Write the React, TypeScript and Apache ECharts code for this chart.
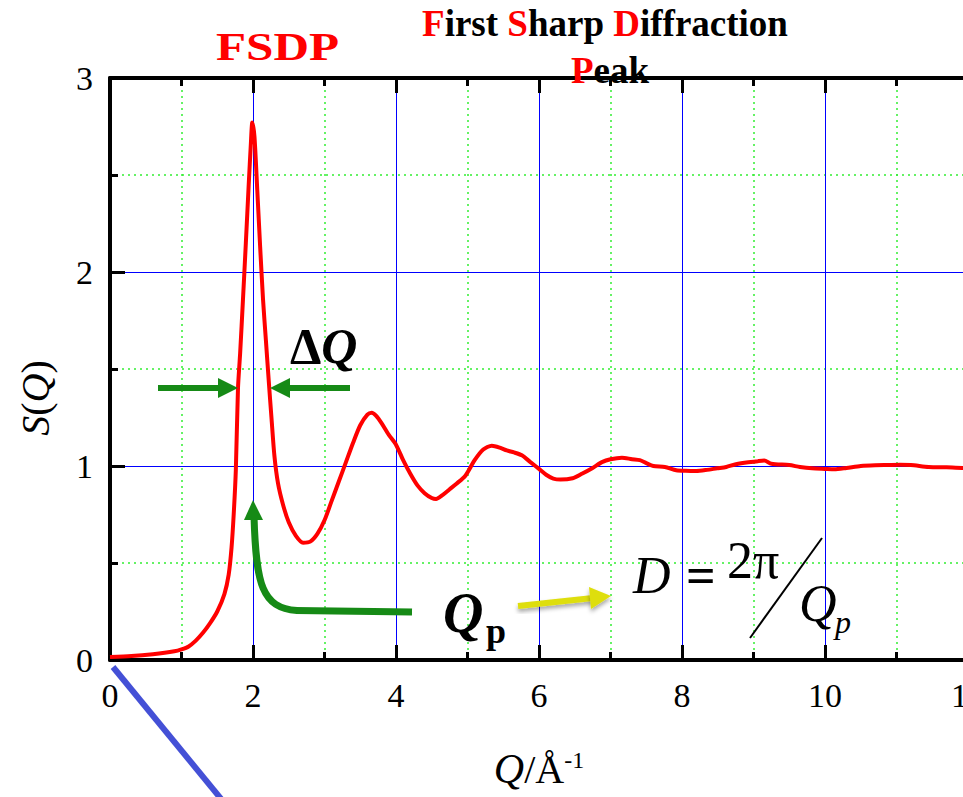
import React, { useEffect, useRef } from "react";
import * as echarts from "echarts";

// Structure factor S(Q) sampled along Q (Å^-1)
const qValues = [
  0.0, 0.3, 0.6, 0.9, 1.0, 1.1, 1.2, 1.3, 1.4, 1.5, 1.6, 1.66, 1.7, 1.73, 1.76, 1.79, 1.82, 1.86, 1.9,
  1.94, 1.97, 1.99, 2.02, 2.06, 2.1, 2.14, 2.18, 2.22, 2.26, 2.3, 2.35, 2.42, 2.5, 2.6, 2.7, 2.8, 2.9,
  3.0, 3.1, 3.2, 3.3, 3.4, 3.5, 3.6, 3.66, 3.72, 3.8, 3.9, 4.0, 4.1, 4.2, 4.3, 4.4, 4.5, 4.56, 4.65,
  4.75, 4.85, 4.97, 5.1, 5.22, 5.34, 5.45, 5.55, 5.65, 5.76, 5.88, 6.0, 6.1, 6.2, 6.3, 6.47, 6.6, 6.75,
  6.88, 7.0, 7.16, 7.3, 7.41, 7.5, 7.6, 7.76, 7.92, 8.05, 8.2, 8.35, 8.49, 8.62, 8.74, 8.9, 9.06, 9.15,
  9.25, 9.5, 9.65, 9.82, 10.0, 10.13, 10.3, 10.5, 10.7, 10.88, 11.05, 11.2, 11.45, 11.7, 11.92, 12.0,
];
const sValues = [
  0.015, 0.02, 0.03, 0.045, 0.055, 0.07, 0.1, 0.14, 0.19, 0.25, 0.34, 0.44, 0.58, 0.75, 0.98, 1.4, 1.58,
  1.86, 2.15, 2.45, 2.66, 2.77, 2.7, 2.42, 2.13, 1.86, 1.65, 1.44, 1.24, 1.05, 0.91, 0.8, 0.71, 0.64,
  0.605, 0.61, 0.65, 0.72, 0.82, 0.92, 1.02, 1.12, 1.21, 1.265, 1.275, 1.26, 1.22, 1.16, 1.11, 1.03,
  0.96, 0.9, 0.86, 0.835, 0.83, 0.85, 0.88, 0.91, 0.95, 1.03, 1.085, 1.105, 1.095, 1.08, 1.07, 1.055,
  1.02, 0.985, 0.955, 0.935, 0.93, 0.937, 0.96, 0.99, 1.02, 1.035, 1.043, 1.035, 1.03, 1.015, 1.0,
  0.995, 0.978, 0.975, 0.974, 0.98, 0.988, 0.995, 1.008, 1.018, 1.025, 1.028, 1.012, 1.005, 0.995,
  0.988, 0.985, 0.983, 0.99, 1.0, 1.004, 1.005, 1.006, 1.005, 0.995, 0.993, 0.99, 0.99,
];

const xRange = [0, 12];
const yRange = [0, 3];

const SERIF = "Liberation Serif";
const GREEN = "#168a16";
const YELLOW = "#dede0c";

export default function App() {
  const ref = useRef<HTMLDivElement>(null);

  useEffect(() => {
    if (!ref.current) return;
    const chart = echarts.init(ref.current, null, { renderer: "svg" });

    const data = qValues.map((q, i) => [q, sValues[i]]);

    const majorSplit = { show: true, lineStyle: { color: "#0000ff", width: 1 } };
    const minorSplit = { show: true, lineStyle: { color: "#33ee33", width: 1.5, type: [2, 4] } };
    const axisLine = { show: true, onZero: false, lineStyle: { color: "#000", width: 4 } };
    const tick = { show: true, inside: true, length: 15, lineStyle: { color: "#000", width: 3 } };
    const minorTick = { show: true, splitNumber: 2, length: 8, lineStyle: { color: "#000", width: 3 } };

    chart.setOption({
      animation: false,
      backgroundColor: "#fff",
      textStyle: { fontFamily: SERIF },
      grid: { left: 110, top: 78, width: 858, height: 582, outerBoundsMode: "none", containLabel: false },
      xAxis: [
        {
          type: "value",
          min: xRange[0],
          max: xRange[1],
          interval: 2,
          axisLine,
          axisTick: tick,
          minorTick,
          splitLine: majorSplit,
          minorSplitLine: minorSplit,
          axisLabel: { margin: 18, fontSize: 34, color: "#000", fontFamily: SERIF },
          name: "{q|Q}{n|/Å}{s|-1}",
          nameLocation: "middle",
          nameGap: 88,
          nameTextStyle: {
            fontFamily: SERIF,
            rich: {
              q: { fontSize: 42, fontStyle: "italic", fontFamily: SERIF, color: "#000" },
              n: { fontSize: 40, fontFamily: SERIF, color: "#000" },
              s: { fontSize: 24, fontFamily: SERIF, color: "#000", verticalAlign: "top" },
            },
          },
        },
        {
          type: "value",
          position: "top",
          min: xRange[0],
          max: xRange[1],
          interval: 2,
          axisLine,
          axisTick: tick,
          minorTick,
          splitLine: { show: false },
          axisLabel: { show: false },
        },
      ],
      yAxis: [
        {
          type: "value",
          min: yRange[0],
          max: yRange[1],
          interval: 1,
          axisLine,
          axisTick: tick,
          minorTick,
          splitLine: majorSplit,
          minorSplitLine: minorSplit,
          axisLabel: { margin: 17, fontSize: 34, color: "#000", fontFamily: SERIF },
          name: "{i|S}{n|(}{i|Q}{n|)}",
          nameLocation: "middle",
          nameRotate: 90,
          nameGap: 55,
          nameTextStyle: {
            fontFamily: SERIF,
            padding: [0, 58, 0, 0],
            rich: {
              i: { fontSize: 40, fontStyle: "italic", fontFamily: SERIF, color: "#000" },
              n: { fontSize: 40, fontFamily: SERIF, color: "#000" },
            },
          },
        },
      ],
      series: [
        {
          type: "line",
          data,
          showSymbol: false,
          smooth: 0.25,
          lineStyle: { color: "#ff0000", width: 4 },
          z: 5,
        },
      ],
      graphic: [
        // stray diagonal stroke below the origin
        { type: "line", shape: { x1: 113, y1: 667, x2: 222, y2: 800 }, style: { stroke: "#4450d6", lineWidth: 6 }, z: 10 },
        // headline
        {
          type: "text",
          x: 605,
          y: 23,
          style: {
            text: "{r|F}{k|irst }{r|S}{k|harp }{r|D}{k|iffraction}",
            align: "center",
            verticalAlign: "middle",
            rich: {
              r: { fill: "#ff0000", fontSize: 37, fontWeight: "bold", fontFamily: SERIF },
              k: { fill: "#000", fontSize: 37, fontWeight: "bold", fontFamily: SERIF },
            },
          },
          z: 20,
        },
        {
          type: "text",
          x: 610,
          y: 70,
          style: {
            text: "{r|P}{k|eak}",
            align: "center",
            verticalAlign: "middle",
            rich: {
              r: { fill: "#ff0000", fontSize: 37, fontWeight: "bold", fontFamily: SERIF },
              k: { fill: "#000", fontSize: 37, fontWeight: "bold", fontFamily: SERIF },
            },
          },
          z: 20,
        },
        {
          type: "text",
          x: 277.5,
          y: 46.5,
          scaleX: 1.2,
          style: {
            text: "FSDP",
            align: "center",
            verticalAlign: "middle",
            fill: "#ff0000",
            fontSize: 41,
            fontWeight: "bold",
            fontFamily: SERIF,
          },
          z: 20,
        },
        // width marker
        {
          type: "text",
          x: 290,
          y: 346,
          style: {
            text: "{d|Δ}{q|Q}",
            align: "left",
            verticalAlign: "middle",
            rich: {
              d: { fill: "#000", fontSize: 50, fontWeight: "bold", fontFamily: SERIF },
              q: { fill: "#000", fontSize: 50, fontWeight: "bold", fontStyle: "italic", fontFamily: SERIF },
            },
          },
          z: 20,
        },
        { type: "line", shape: { x1: 158, y1: 388, x2: 222, y2: 388 }, style: { stroke: GREEN, lineWidth: 6 }, z: 12 },
        { type: "polygon", shape: { points: [[218, 378], [238, 388], [218, 398]] }, style: { fill: GREEN }, z: 12 },
        { type: "line", shape: { x1: 350, y1: 388, x2: 286, y2: 388 }, style: { stroke: GREEN, lineWidth: 6 }, z: 12 },
        { type: "polygon", shape: { points: [[290, 378], [270, 388], [290, 398]] }, style: { fill: GREEN }, z: 12 },
        // peak position arrow
        { type: "line", shape: { x1: 412, y1: 612, x2: 296, y2: 610.5 }, style: { stroke: GREEN, lineWidth: 7 }, z: 12 },
        {
          type: "bezierCurve",
          shape: { x1: 297, y1: 610.5, cpx1: 262, cpy1: 608, cpx2: 256, cpy2: 585, x2: 254, y2: 516 },
          style: { stroke: GREEN, lineWidth: 7, fill: "none" },
          z: 12,
        },
        { type: "polygon", shape: { points: [[244, 520], [253, 500], [263, 520]] }, style: { fill: GREEN }, z: 12 },
        {
          type: "text",
          x: 443,
          y: 613,
          style: { text: "Q", align: "left", verticalAlign: "middle", fill: "#000", fontSize: 56, fontWeight: "bold", fontStyle: "italic", fontFamily: SERIF },
          z: 20,
        },
        {
          type: "text",
          x: 486,
          y: 631,
          style: { text: "p", align: "left", verticalAlign: "middle", fill: "#000", fontSize: 36, fontWeight: "bold", fontFamily: SERIF },
          z: 20,
        },
        // pointer to the spacing relation
        {
          type: "line",
          shape: { x1: 518, y1: 606, x2: 593, y2: 598 },
          style: { stroke: YELLOW, lineWidth: 6, shadowBlur: 4, shadowColor: "rgba(0,0,0,0.35)", shadowOffsetY: 3 },
          z: 12,
        },
        {
          type: "polygon",
          shape: { points: [[589, 587], [611, 596], [591, 609]] },
          style: { fill: YELLOW, shadowBlur: 4, shadowColor: "rgba(0,0,0,0.35)", shadowOffsetY: 3 },
          z: 12,
        },
        {
          type: "text",
          x: 633,
          y: 575,
          style: { text: "D", align: "left", verticalAlign: "middle", fill: "#000", fontSize: 52, fontStyle: "italic", fontFamily: SERIF },
          z: 20,
        },
        {
          type: "text",
          x: 686,
          y: 575,
          style: { text: "=", align: "left", verticalAlign: "middle", fill: "#000", fontSize: 52, fontWeight: "bold", fontFamily: SERIF },
          z: 20,
        },
        {
          type: "text",
          x: 727,
          y: 560,
          style: { text: "2π", align: "left", verticalAlign: "middle", fill: "#000", fontSize: 52, fontFamily: SERIF },
          z: 20,
        },
        { type: "line", shape: { x1: 822, y1: 538, x2: 750, y2: 638 }, style: { stroke: "#000", lineWidth: 2 }, z: 20 },
        {
          type: "text",
          x: 799,
          y: 603,
          style: { text: "Q", align: "left", verticalAlign: "middle", fill: "#000", fontSize: 52, fontStyle: "italic", fontFamily: SERIF },
          z: 20,
        },
        {
          type: "text",
          x: 835,
          y: 622,
          style: { text: "p", align: "left", verticalAlign: "middle", fill: "#000", fontSize: 32, fontStyle: "italic", fontFamily: SERIF },
          z: 20,
        },
      ],
    });

    return () => chart.dispose();
  }, []);

  return (
    <div
      ref={ref}
      style={{ position: "fixed", left: 0, top: 0, width: 963, height: 797, background: "#fff" }}
    />
  );
}
